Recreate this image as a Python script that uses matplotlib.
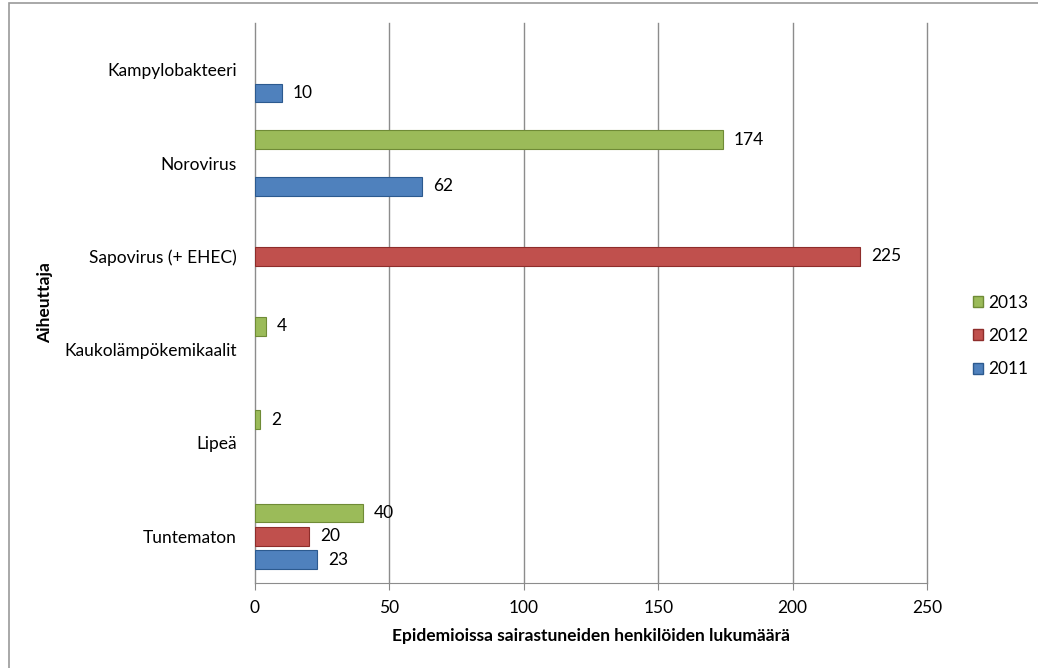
import numpy as np
import matplotlib.pyplot as plt
from matplotlib.patches import Rectangle, Patch

plt.rcParams['font.family'] = ['Lato', 'DejaVu Sans']

categories = ["Tuntematon", "Lipeä", "Kaukolämpökemikaalit",
              "Sapovirus (+ EHEC)", "Norovirus", "Kampylobakteeri"]
years = ["2011", "2012", "2013"]
values_2011 = [23, None, None, None, 62, 10]
values_2012 = [20, None, None, 225, None, None]
values_2013 = [40, 2, 4, None, 174, None]
xticks = [0, 50, 100, 150, 200, 250]

series = [values_2011, values_2012, values_2013]
colors = ["#4F81BD", "#C0504D", "#9BBB59"]
edges = ["#2C5A8F", "#8E2D2B", "#6F8B36"]
offsets = [-0.25, 0.0, 0.25]


def main():
    fig = plt.figure(figsize=(10.38, 6.68), dpi=100)
    ax = fig.add_axes([255 / 1038, 85 / 668, 672 / 1038, 560 / 668])

    y = np.arange(len(categories))
    for vals, c, ec, off in zip(series, colors, edges, offsets):
        for i, v in enumerate(vals):
            if v is None:
                continue
            ax.barh(y[i] + off, v, height=0.2, color=c, edgecolor=ec,
                    linewidth=0.8, zorder=3)
            ax.annotate(str(v), (v, y[i] + off), xytext=(8, 0),
                        textcoords="offset points", va="center", ha="left",
                        fontsize=12.5, color="black")

    ax.set_xlim(0, 250)
    ax.set_ylim(-0.5, len(categories) - 0.5)
    ax.set_xticks(xticks)
    ax.set_yticks(y)
    ax.set_yticklabels(categories)
    ax.tick_params(axis="y", length=0, pad=13, labelsize=12.5)
    ax.tick_params(axis="x", length=5, color="#888888", labelsize=12.5, pad=7)
    for xt in xticks:
        ax.axvline(xt, color="#8C8C8C", linewidth=1, zorder=0, clip_on=False)
    for s in ["top", "right", "left"]:
        ax.spines[s].set_visible(False)
    ax.spines["bottom"].set_color("#8C8C8C")

    ax.set_xlabel("Epidemioissa sairastuneiden henkilöiden lukumäärä",
                  fontweight="bold", fontsize=12.5, labelpad=9)
    fig.text(45 / 1038, 1 - 303 / 668, "Aiheuttaja", rotation=90,
             fontweight="bold", fontsize=12.5, ha="center", va="center")

    handles = [Patch(facecolor=c, edgecolor=ec, label=yr)
               for c, ec, yr in zip(colors, edges, years)]
    fig.legend(handles[::-1], years[::-1], loc="center left",
               bbox_to_anchor=(957 / 1038, 1 - 336 / 668), frameon=False,
               fontsize=12.5, handlelength=0.6, handleheight=0.6,
               handletextpad=0.3, labelspacing=1.0)

    fig.patches.append(Rectangle((9 / 1038, -0.01), 1.0, 1 - 3 / 668 + 0.01,
                                 transform=fig.transFigure, fill=False,
                                 edgecolor="#9A9A9A", linewidth=1.2))
    fig.savefig("out.png", dpi=100)


if __name__ == "__main__":
    main()
